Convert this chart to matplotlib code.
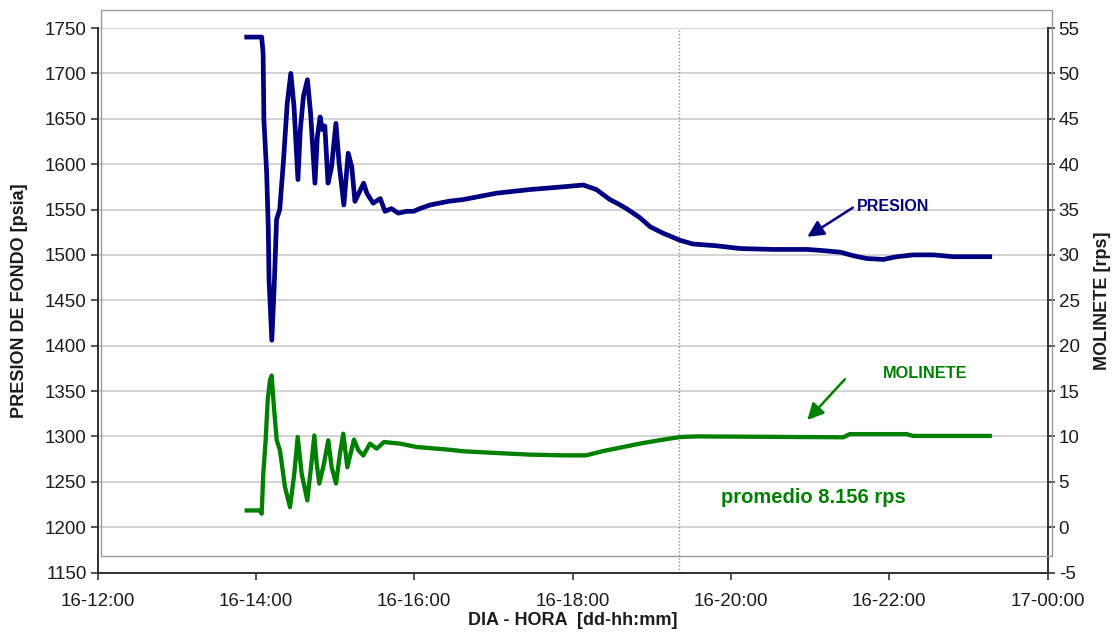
import matplotlib
matplotlib.use("Agg")
import matplotlib.pyplot as plt
from matplotlib.patches import Rectangle

plt.rcParams['font.family'] = ['Liberation Sans', 'DejaVu Sans']
plt.rcParams['axes.unicode_minus'] = False

# ---- data (time in hours of day 16) ----
presion_t = [13.883, 14.072, 14.09, 14.10, 14.135, 14.155, 14.165, 14.20, 14.23, 14.26,
             14.30, 14.345, 14.395, 14.44, 14.48, 14.53, 14.56, 14.60, 14.65, 14.69,
             14.745, 14.775, 14.81, 14.84, 14.87, 14.91, 14.955, 15.01, 15.05, 15.11,
             15.165, 15.21, 15.25, 15.36, 15.40, 15.48, 15.57, 15.63, 15.71, 15.80,
             15.90, 15.99, 16.07, 16.20, 16.43, 16.62, 17.04, 17.46, 17.88, 18.135,
             18.30, 18.47, 18.56, 18.68, 18.85, 18.98, 19.14, 19.36, 19.52, 19.82,
             20.115, 20.535, 20.96, 21.125, 21.38, 21.55, 21.715, 21.925, 22.095, 22.305,
             22.56, 22.81, 23.27]
presion_psia = [1740, 1740, 1722, 1649, 1590, 1531, 1472, 1406, 1465, 1539,
                1550, 1601, 1667, 1700, 1664, 1583, 1638, 1675, 1693, 1656,
                1579, 1630, 1652, 1638, 1642, 1579, 1597, 1645, 1601, 1555,
                1612, 1597, 1559, 1579, 1568, 1557, 1562, 1548, 1551, 1546,
                1548, 1548, 1551, 1555, 1559, 1561, 1568, 1572, 1575, 1577,
                1572, 1561, 1557, 1551, 1541, 1531, 1524, 1516, 1512, 1510,
                1507, 1506, 1506, 1505, 1503, 1499, 1496, 1495, 1498, 1500,
                1500, 1498, 1498]

molinete_t = [13.883, 14.05, 14.072, 14.092, 14.122, 14.148, 14.177, 14.198, 14.227, 14.262,
              14.303, 14.366, 14.43, 14.484, 14.527, 14.577, 14.648, 14.695, 14.737, 14.767,
              14.80, 14.859, 14.913, 14.956, 15.011, 15.061, 15.103, 15.154, 15.238, 15.293,
              15.356, 15.44, 15.525, 15.617, 15.82, 16.03, 16.43, 16.62, 17.04, 17.46,
              17.88, 18.17, 18.39, 18.64, 18.89, 19.15, 19.36, 19.57, 20.5, 21.42,
              21.5, 22.22, 22.3, 23.27]
molinete_rps = [1.84, 1.84, 1.48, 5.9, 9.57, 14.0, 16.2, 16.7, 13.2, 9.57,
                8.47, 4.42, 2.2, 5.9, 9.93, 5.9, 2.95, 6.6, 10.1, 7.0,
                4.8, 7.0, 9.57, 6.6, 4.8, 8.1, 10.3, 6.6, 9.65, 8.47,
                7.9, 9.2, 8.65, 9.38, 9.2, 8.83, 8.54, 8.36, 8.17, 7.99,
                7.91, 7.91, 8.39, 8.83, 9.27, 9.65, 9.93, 10.0, 9.95, 9.9,
                10.25, 10.25, 10.05, 10.05]

x_ticks = [12, 14, 16, 18, 20, 22, 24]
x_labels = ['16-12:00', '16-14:00', '16-16:00', '16-18:00', '16-20:00', '16-22:00', '17-00:00']
left_ticks = list(range(1150, 1751, 50))
right_ticks = list(range(-5, 56, 5))
marker_time = 19.34
promedio_text = 'promedio 8.156 rps'

NAVY = '#000080'
GREEN = '#008000'
TXT = '#1c1c1c'

fig = plt.figure(figsize=(11.15, 6.35), dpi=100)
fig.patches.append(Rectangle((101/1115, 1-556/635), (1052-101)/1115, (556-10)/635,
                             transform=fig.transFigure, fill=False,
                             edgecolor='#9a9a9a', lw=1.0, zorder=0))

ax = fig.add_axes([0.0876, 0.0984, 0.8519, 0.8575])
ax.patch.set_alpha(0)
ax.set_xlim(12, 24)
ax.set_ylim(1150, 1750)
ax.set_yticks(left_ticks)
ax.set_xticks(x_ticks)
ax.set_xticklabels(x_labels)
for y in left_ticks[1:]:
    ax.axhline(y, color='#c8c8c8', lw=1.1, zorder=1)
ax.axvline(marker_time, color='#8a8a8a', lw=1.0, ls=(0, (1, 1.5)), zorder=2)

ax.plot(presion_t, presion_psia, color=NAVY, lw=3.4, zorder=4, solid_joinstyle='round')

ax2 = ax.twinx()
ax2.set_ylim(-5, 55)
ax2.set_yticks(right_ticks)
ax2.plot(molinete_t, molinete_rps, color=GREEN, lw=3.1, zorder=4, solid_joinstyle='round')

for a in (ax, ax2):
    a.spines['top'].set_visible(False)
    for s in ('left', 'right', 'bottom'):
        a.spines[s].set_color('#333333')
        a.spines[s].set_linewidth(1.3)
    a.tick_params(direction='out', length=5, width=1.2, colors='#333333',
                  labelcolor=TXT, labelsize=13.5, pad=3)
ax.tick_params(axis='x', pad=10)

ax.set_xlabel('DIA - HORA  [dd-hh:mm]', fontsize=13, fontweight='bold', color=TXT, labelpad=1)
ax.set_ylabel('PRESION DE FONDO [psia]', fontsize=13, fontweight='bold', color=TXT, labelpad=12)
ax2.set_ylabel('MOLINETE [rps]', fontsize=13, fontweight='bold', color=TXT, labelpad=10)

# annotations
arrow_style = '-|>,head_length=0.7,head_width=0.35'
ax.annotate('', xy=(20.965, 1520), xytext=(21.54, 1552),
            arrowprops=dict(arrowstyle=arrow_style, color=NAVY, lw=1.8, mutation_scale=14,
                            shrinkA=0, shrinkB=0))
ax.text(21.59, 1553.5, 'PRESION', color=NAVY, fontsize=11.5, fontweight='bold',
        va='center', ha='left')
ax2.annotate('', xy=(20.965, 11.8), xytext=(21.44, 16.3),
             arrowprops=dict(arrowstyle=arrow_style, color=GREEN, lw=1.8, mutation_scale=14,
                             shrinkA=0, shrinkB=0))
ax2.text(21.92, 16.95, 'MOLINETE', color=GREEN, fontsize=11.8, fontweight='bold',
         va='center', ha='left')
ax2.text(19.88, 3.3, promedio_text, color=GREEN, fontsize=14.5, fontweight='bold',
         va='center', ha='left')

fig.savefig('out.png', dpi=100)
